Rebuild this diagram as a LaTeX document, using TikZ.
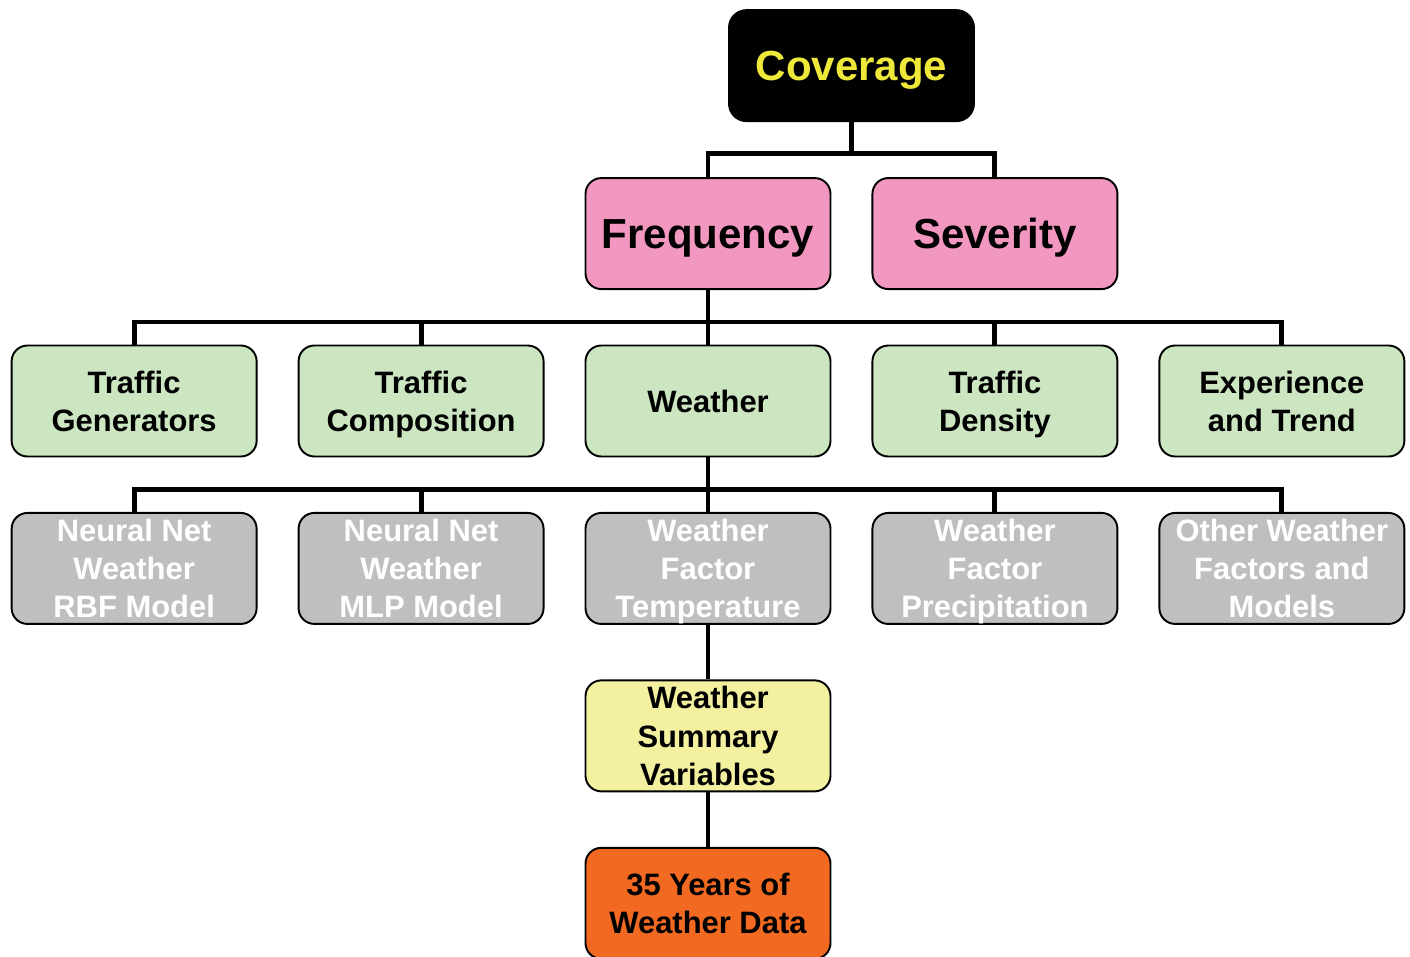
\documentclass[tikz,border=0pt]{standalone}
\usepackage{fontspec}
\setmainfont{Liberation Sans}
\usetikzlibrary{positioning, calc}

\definecolor{covyellow}{RGB}{237,232,58}
\definecolor{boxpink}{RGB}{241,151,192}
\definecolor{boxgreen}{RGB}{205,230,194}
\definecolor{boxgray}{RGB}{191,191,191}
\definecolor{boxyellow}{RGB}{243,240,160}
\definecolor{boxorange}{RGB}{242,106,33}

\begin{document}
\begin{tikzpicture}[
    node distance=1.09cm and 0.80cm,
    box/.style={
        rectangle, rounded corners=9pt,
        draw=black, line width=1.1pt,
        minimum width=4.9cm, minimum height=2.22cm,
        align=center, inner sep=0.5pt, text depth=0pt,
        font=\fontsize{17.6}{21.8}\selectfont\bfseries
    },
    bigbox/.style={
        box, font=\fontsize{23.9}{29}\selectfont\bfseries
    },
    top/.style={bigbox, fill=black, text=covyellow, rounded corners=10pt},
    level/.style={bigbox, fill=boxpink},
    factor/.style={box, fill=boxgreen},
    model/.style={box, fill=boxgray, text=white},
    summary/.style={box, fill=boxyellow},
    source/.style={box, fill=boxorange},
    conn/.style={draw=black, line width=2.8pt}
]

\useasboundingbox (0,0) rectangle (28.2,-19.14);

% ============ FACTOR ROW ============
\node[factor] (wea) at (14.16,-8.02) {Weather};
\node[factor, left=of wea] (tcomp) {Traffic\\Composition};
\node[factor, left=of tcomp] (tgen) {Traffic\\Generators};
\node[factor, right=of wea] (tdens) {Traffic\\Density};
\node[factor, right=of tdens] (exper) {Experience\\and Trend};

% ============ LEVELS ============
\node[level, above=of wea] (freq) {Frequency};
\node[level, right=of freq] (sev) {Severity};
\node[top, above=1.1cm of $(freq.north)!0.5!(sev.north)$, anchor=south] (cov) {Coverage};

% ============ MODEL ROW ============
\node[model, below=of wea] (temp) {Weather\\Factor\\Temperature};
\node[model, left=of temp] (mlp) {Neural Net\\Weather\\MLP Model};
\node[model, left=of mlp] (rbf) {Neural Net\\Weather\\RBF Model};
\node[model, right=of temp] (prec) {Weather\\Factor\\Precipitation};
\node[model, right=of prec] (other) {Other Weather\\Factors and\\Models};

% ============ DATA CHAIN ============
\node[summary, below=of temp] (wsum) {Weather\\Summary\\Variables};
\node[source, below=of wsum] (data) {35 Years of\\Weather Data};

% ============ CONNECTORS ============
\draw[conn] (cov.south) -- ++(0,-0.62) -| (freq.north);
\draw[conn] (cov.south) -- ++(0,-0.62) -| (sev.north);

\foreach \n in {tgen, tcomp, wea, tdens, exper}
    \draw[conn] (freq.south) -- ++(0,-0.64) -| (\n.north);

\foreach \n in {rbf, mlp, temp, prec, other}
    \draw[conn] (wea.south) -- ++(0,-0.64) -| (\n.north);

\draw[conn] (temp) -- (wsum);
\draw[conn] (wsum) -- (data);

\end{tikzpicture}
\end{document}
